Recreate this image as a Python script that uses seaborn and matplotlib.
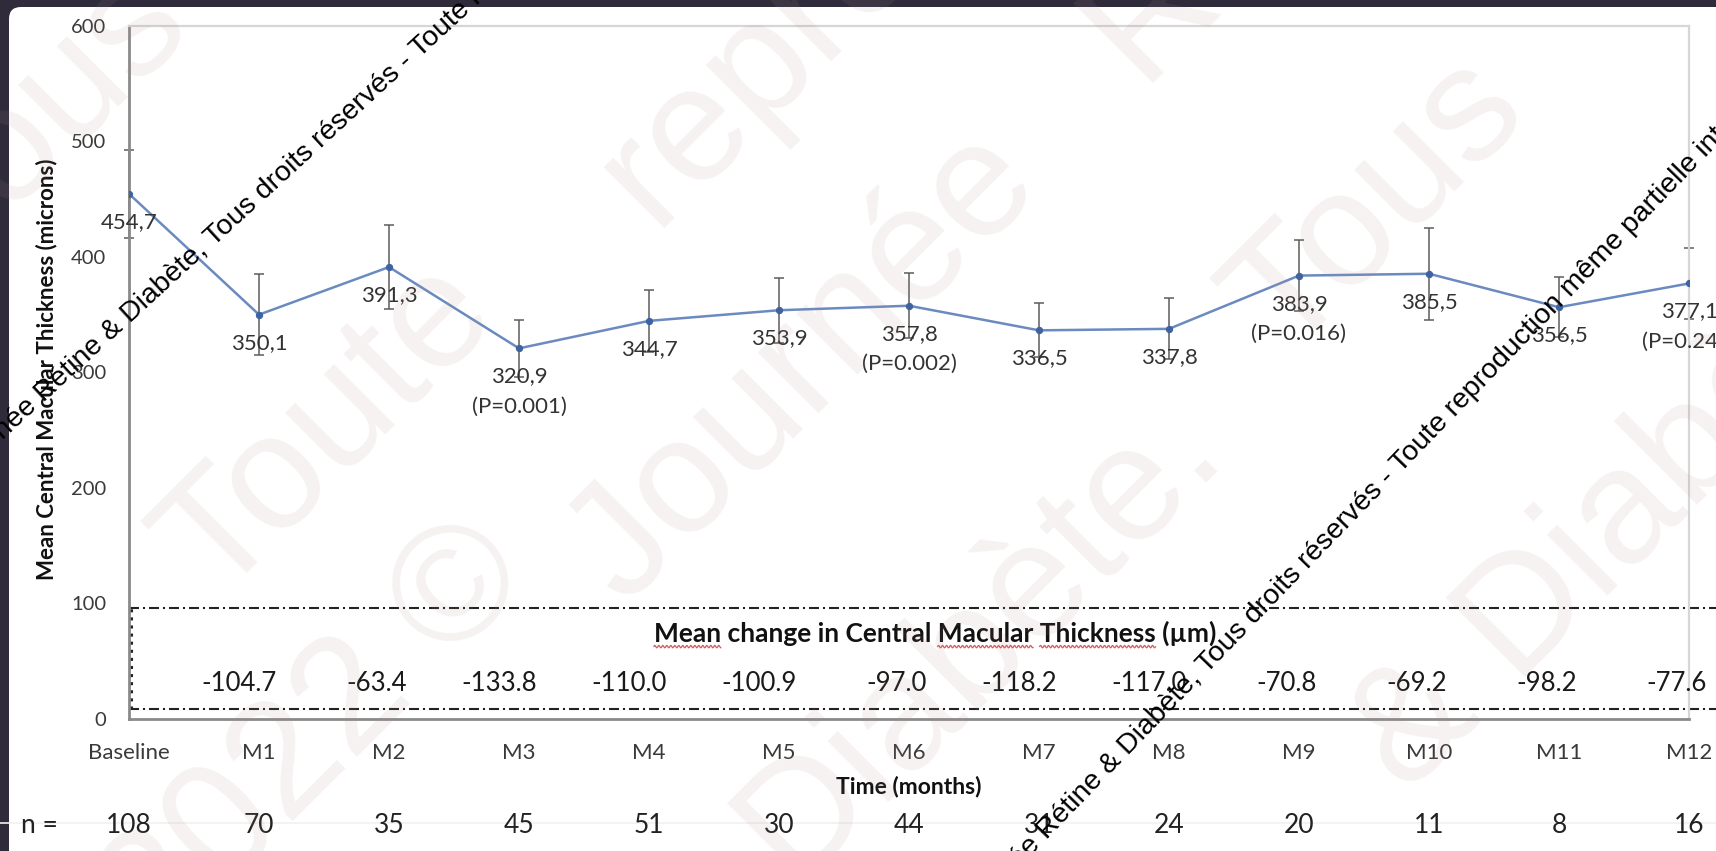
import numpy as np
import pandas as pd
import matplotlib
matplotlib.use("Agg")
import matplotlib.pyplot as plt
import seaborn as sns
from matplotlib.patches import FancyBboxPatch
from matplotlib.lines import Line2D
from matplotlib.transforms import IdentityTransform, blended_transform_factory

# ---- data -------------------------------------------------------------
visits = ["Baseline", "M1", "M2", "M3", "M4", "M5", "M6",
          "M7", "M8", "M9", "M10", "M11", "M12"]
cmt_mean = [454.7, 350.1, 391.3, 320.9, 344.7, 353.9, 357.8,
            336.5, 337.8, 383.9, 385.5, 356.5, 377.1]
cmt_sd = [38.0, 35.0, 36.0, 24.5, 27.0, 28.0, 28.0,
          23.5, 26.5, 30.5, 40.0, 26.0, 30.5]
p_values = ["", "", "", "P=0.001", "", "", "P=0.002",
            "", "", "P=0.016", "", "", "P=0.244"]
change_visits = visits[1:]
cmt_change = [-104.7, -63.4, -133.8, -110.0, -100.9, -97.0,
              -118.2, -117.0, -70.8, -69.2, -98.2, -77.6]
n_patients = [108, 70, 35, 45, 51, 30, 44, 31, 24, 20, 11, 8, 16]

df = pd.DataFrame({"visit": visits, "pos": np.arange(len(visits)),
                   "cmt": cmt_mean, "sd": cmt_sd})

# ---- style ------------------------------------------------------------
sns.set_theme(style="white")
plt.rcParams["font.family"] = ["Lato", "DejaVu Sans"]

W, H = 1716, 851
fig = plt.figure(figsize=(W / 100, H / 100), dpi=100)
fig.patch.set_facecolor("#2f2b3b")
card = FancyBboxPatch((9, -40), W + 40, H - 7 + 40,
                      boxstyle="round,pad=0,rounding_size=12",
                      transform=IdentityTransform(), fc="white", ec="none",
                      zorder=-10)
fig.add_artist(card)

ax = fig.add_axes([129 / W, 132 / H, 1560 / W, 693 / H])
ax.set_facecolor("none")

line_color = "#6a8ac0"
mark_color = "#3f62a0"
txt_color = "#333333"

sns.lineplot(data=df, x="pos", y="cmt", ax=ax, color=line_color,
             linewidth=1.8, marker="o", markersize=4.5,
             markerfacecolor=mark_color, markeredgecolor=mark_color,
             zorder=3)
ax.errorbar(df["pos"], df["cmt"], yerr=df["sd"], fmt="none",
            ecolor="#5c5c5c", elinewidth=1.1, capsize=3.5, capthick=1.1,
            zorder=2, clip_on=False)

# value labels under each point
for x, v, p in zip(df["pos"], cmt_mean, p_values):
    ax.annotate(f"{v:.1f}".replace(".", ","), (x, v), xytext=(0, -28),
                textcoords="offset pixels", ha="center", va="center",
                fontsize=16, color=txt_color, annotation_clip=False)
    if p:
        ax.annotate(f"({p})", (x, v), xytext=(0, -58),
                    textcoords="offset pixels", ha="center", va="center",
                    fontsize=16, color=txt_color, annotation_clip=False)

# axes
ax.set_xlim(0, len(visits) - 1)
ax.set_ylim(0, 600)
ax.set_xticks(df["pos"])
ax.set_xticklabels(visits)
ax.set_yticks(np.arange(0, 601, 100))
for side in ("left", "bottom"):
    ax.spines[side].set_color("#8a8a8a")
    ax.spines[side].set_linewidth(2)
for side in ("top", "right"):
    ax.spines[side].set_color("#d6d6d6")
    ax.spines[side].set_linewidth(1.6)
ax.tick_params(axis="both", direction="inout", length=9, width=1.3,
               color="#8a8a8a", labelcolor="#3a3a3a")
ax.tick_params(axis="x", labelsize=16, pad=13)
ax.tick_params(axis="y", labelsize=14.5, pad=12)

ax.set_ylabel("Mean Central Macular Thickness (microns)", fontsize=16,
              fontweight="bold", color="#111111", va="center")
ax.yaxis.set_label_coords(-0.053, 0.505)
ax.set_xlabel("Time (months)", fontsize=16.5, fontweight="bold",
              color="#111111", va="center")
ax.xaxis.set_label_coords(0.5, -0.097)

# patient counts row
row = blended_transform_factory(ax.transData, ax.transAxes)
ax.text(-0.69, -0.153, "n =", transform=row, ha="center", va="center",
        fontsize=19, color="#222222", clip_on=False)
for x, n in zip(df["pos"], n_patients):
    ax.text(x, -0.153, str(n), transform=row, ha="center", va="center",
            fontsize=19, color="#222222", clip_on=False)
fig.add_artist(Line2D([0, W], [H - 823, H - 823], transform=IdentityTransform(),
                      color="#f1f1f1", lw=1.2, zorder=-5))

# mean change box
band = blended_transform_factory(ax.transAxes, ax.transData)
for yv in (96, 8.7):
    ax.plot([0, 1.2], [yv, yv], transform=band, clip_on=False,
            color="#222222", lw=1.5, dashes=(4.8, 1.9, 1.0, 1.9))
ax.plot([0.0015, 0.0015], [8.7, 96], transform=band, clip_on=False,
        color="#222222", lw=2.2, ls=":")

box_title = "Mean change in Central Macular Thickness (µm)"
title_size = 19
title = ax.text(6.2, 74.5, box_title, ha="center", va="center",
                fontsize=title_size, fontweight="bold", color="#111111")
for x, c in zip(range(1, len(visits)), cmt_change):
    ax.annotate(f"{c:.1f}", (x, 31), xytext=(18, 0),
                textcoords="offset pixels", ha="right", va="center",
                fontsize=18.5, color="#1a1a1a", annotation_clip=False)

# faint watermark
wm_words = [("Toute", 328, 429), ("reproduction", 946, -124),
            ("2022 ©", 317, 738), ("Journée", 804, 366),
            ("Rétine", 1278, -114), ("Diabète.", 979, 637),
            ("Tous", 1378, 206), ("& Diabète.", 1648, 495),
            ("Tous", 42, 121)]
for word, px, py in wm_words:
    fig.text(px / W, 1 - py / H, word, rotation=45, rotation_mode="anchor",
             ha="center", va="center", fontsize=118,
             family="Liberation Sans", color="#b08a8a", alpha=0.11,
             zorder=5)

notice = ("Journée Rétine & Diabète, Tous droits réservés - "
          "Toute reproduction même partielle interdite")
for px, py, ang in [(385, 80, 42.5), (1368, 498, 46.0)]:
    fig.text(px / W, 1 - py / H, notice, rotation=ang,
             rotation_mode="anchor", ha="center", va="center",
             fontsize=20.5, family="Liberation Sans", color="black",
             zorder=10)

# spelling underline marks under some words of the box title
fig.canvas.draw()
renderer = fig.canvas.get_renderer()
tb = title.get_window_extent(renderer)


def prefix_width(s):
    t = fig.text(0, 0, s + "|", fontsize=title_size, fontweight="bold")
    w = t.get_window_extent(renderer).width
    t.set_text("|")
    w -= t.get_window_extent(renderer).width
    t.remove()
    return w


for word in ("Mean", "Macular", "Thickness"):
    i = box_title.index(word)
    x0 = tb.x0 + prefix_width(box_title[:i])
    x1 = tb.x0 + prefix_width(box_title[:i + len(word)])
    xs = np.linspace(x0, x1, int((x1 - x0) * 2))
    ys = tb.y0 - 1 + 1.2 * np.sin((xs - x0) * 2 * np.pi / 4.0)
    fig.add_artist(Line2D(xs, ys, transform=IdentityTransform(),
                          color="#d85a5a", lw=0.9, zorder=6))

fig.savefig("out.png", dpi=100, facecolor=fig.get_facecolor())
